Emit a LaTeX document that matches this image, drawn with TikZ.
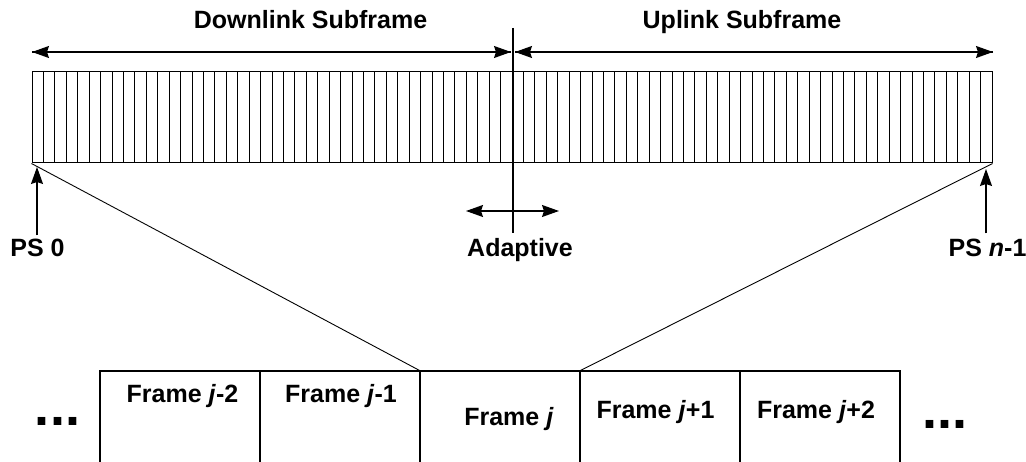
\documentclass[tikz,border=0pt]{standalone}
\usepackage{fontspec}
\setmainfont{Liberation Sans}
\usetikzlibrary{arrows.meta,positioning,calc}

\begin{document}
\begin{tikzpicture}[x=1pt,y=1pt,
        lbl/.style={font=\bfseries\fontsize{25}{30}\selectfont,inner sep=0pt,anchor=base},
        dots/.style={font=\bfseries\fontsize{54}{60}\selectfont,inner sep=0pt,anchor=base},
        arr/.style={line width=1.3pt,-{Stealth[length=17pt,width=12pt,inset=2pt]}},
        framebox/.style={draw,line width=1.2pt,minimum width=160pt,minimum height=100pt,inner sep=0pt}]
    \useasboundingbox (0,0) rectangle (1026,461);

    % the subframe with its physical slots
    \node[draw,line width=1pt,minimum width=960pt,minimum height=91pt,inner sep=0pt] (bar) at (512,343.5) {};
    \foreach \i in {1,...,83}
        \draw[line width=0.9pt] ({32+\i*11.428571},298) -- ++(0,91);

    % split line and extents
    \coordinate (mtop) at (513,433);
    \coordinate (mbot) at (513,228);
    \draw[line width=1.2pt] (mtop) -- (mbot);
    \coordinate (dlL) at (32,409);
    \coordinate (dlR) at (511,409);
    \coordinate (ulL) at (515,409);
    \coordinate (ulR) at (993,409);
    \draw[arr] (dlR) -- (dlL);
    \draw[arr] (dlL) -- (dlR);
    \draw[arr] (ulR) -- (ulL);
    \draw[arr] (ulL) -- (ulR);
    \node[lbl] (dl) at (310.5,432) {Downlink Subframe};
    \node[lbl] (ul) at (742,432) {Uplink Subframe};

    % adaptive boundary
    \coordinate (adL) at (466,250);
    \coordinate (adR) at (559,250);
    \draw[arr] (mbot |- adL) -- (adL);
    \draw[arr] (mbot |- adR) -- (adR);
    \node[lbl] (ad) at (520,204) {Adaptive};

    % first and last slot
    \node[lbl] (ps0) at (37.5,204) {PS 0};
    \node[lbl] (psn) at (987.5,204) {PS \textit{n}-1};
    \coordinate (ps0top) at (37,294);
    \coordinate (psntop) at (986,292);
    \draw[arr] (ps0top |- ps0.north) ++(0,4) -- (ps0top);
    \draw[arr] (psntop |- psn.north) ++(0,6) -- (psntop);

    % frames
    \foreach \n/\x in {fa/180,fb/340,fj/500,fc/660,fd/820}
        \node[framebox] (\n) at (\x,40) {};
    \draw[line width=0.9pt] (bar.south west) -- (fj.north west);
    \draw[line width=0.9pt] (bar.south east) -- (fj.north east);

    \node[lbl] (la) at (182.5,59) {Frame \textit{j}-2};
    \node[lbl] (lb) at (341,59) {Frame \textit{j}-1};
    \node[lbl] (lj) at (509,36) {Frame \textit{j}};
    \node[lbl] (lc) at (655.5,43) {Frame \textit{j}+1};
    \node[lbl] (ld) at (816,43) {Frame \textit{j}+2};
    \node[dots] (dotsL) at (57.5,36) {...};
    \node[dots] (dotsR) at (945,33) {...};
\end{tikzpicture}
\end{document}
